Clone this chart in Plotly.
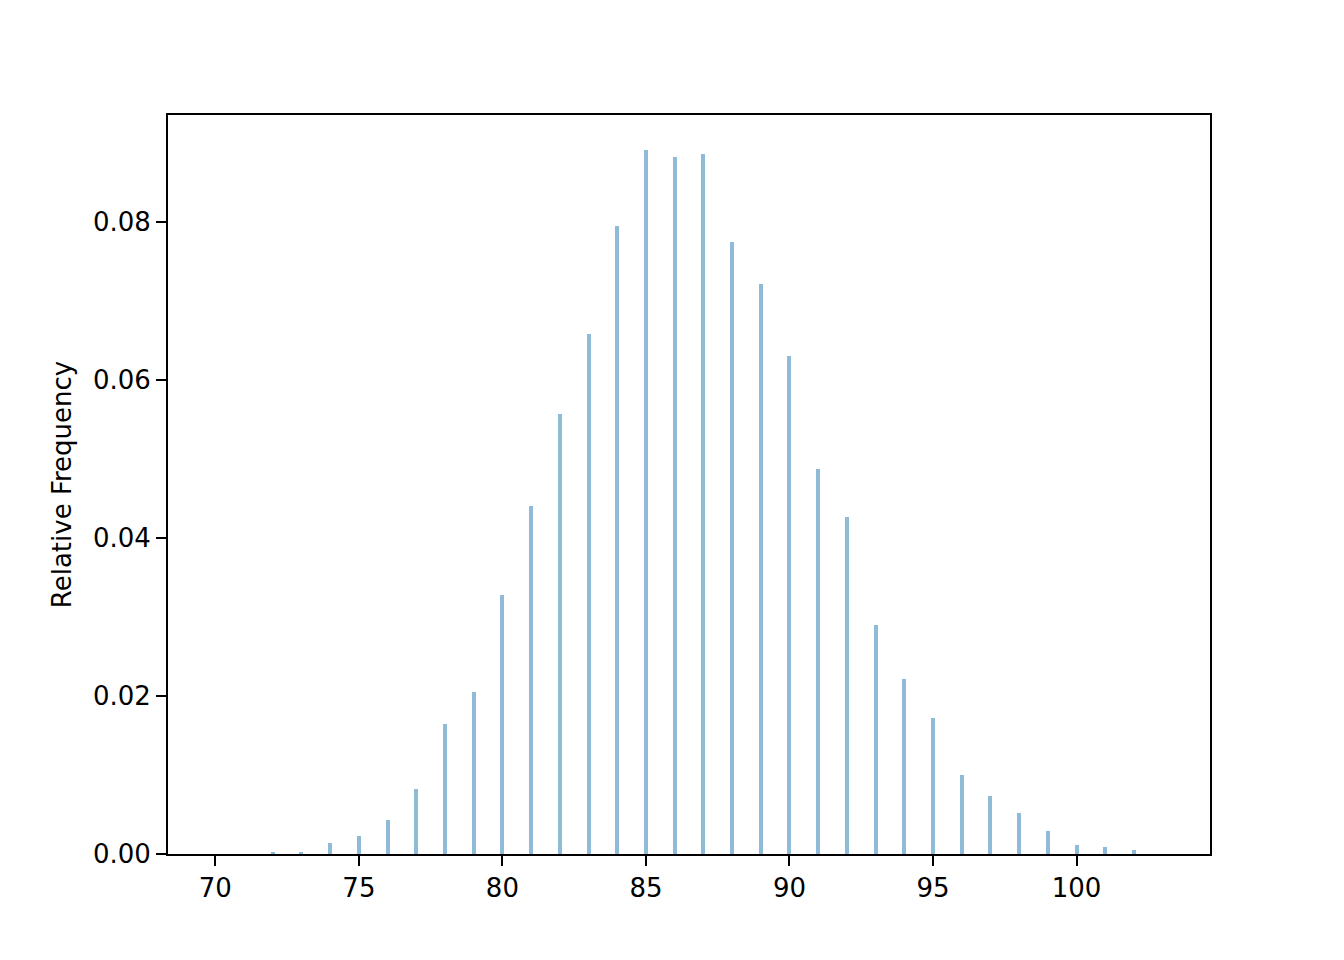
import plotly.graph_objects as go

# scores and their relative frequency
SCORES = list(range(70, 103))
REL_FREQ = [
    0.0, 0.0, 0.0003, 0.0002, 0.0014, 0.0023, 0.0043, 0.0082, 0.0165, 0.0205,
    0.0328, 0.0441, 0.0557, 0.0658, 0.0795, 0.0891, 0.0882, 0.0886, 0.0775, 0.0722,
    0.0630, 0.0487, 0.0427, 0.0290, 0.0222, 0.0172, 0.0100, 0.0073, 0.0052, 0.0029,
    0.0011, 0.0009, 0.0005,
]
X_TICKS = [70, 75, 80, 85, 90, 95, 100]
Y_TICKS = [0.0, 0.02, 0.04, 0.06, 0.08]

FONT = "DejaVu Sans, sans-serif"

fig = go.Figure(go.Bar(
    x=SCORES, y=REL_FREQ, width=0.14,
    marker=dict(color="rgba(31,119,180,0.5)", line=dict(width=0)),
))

axis_style = dict(
    showline=True, mirror=True, linecolor="black", linewidth=2,
    ticks="outside", ticklen=10, tickwidth=2, tickcolor="black",
    showgrid=False, zeroline=False,
    tickfont=dict(size=26, color="black", family=FONT),
)

# page body adds ~8px offset, so margins are shifted to compensate
fig.update_layout(
    width=1344, height=960,
    paper_bgcolor="white", plot_bgcolor="white",
    margin=dict(l=160, r=142, t=107, b=114),
    font=dict(family=FONT, size=26, color="black"),
    showlegend=False,
    bargap=0,
    xaxis=dict(range=[68.35, 104.65], tickvals=X_TICKS, **axis_style),
    yaxis=dict(
        range=[0, 0.09354], tickvals=Y_TICKS, tickformat=".2f",
        title=dict(text="Relative Frequency", standoff=14,
                   font=dict(size=26, color="black", family=FONT)),
        **axis_style,
    ),
)

fig.write_html("out.html")
